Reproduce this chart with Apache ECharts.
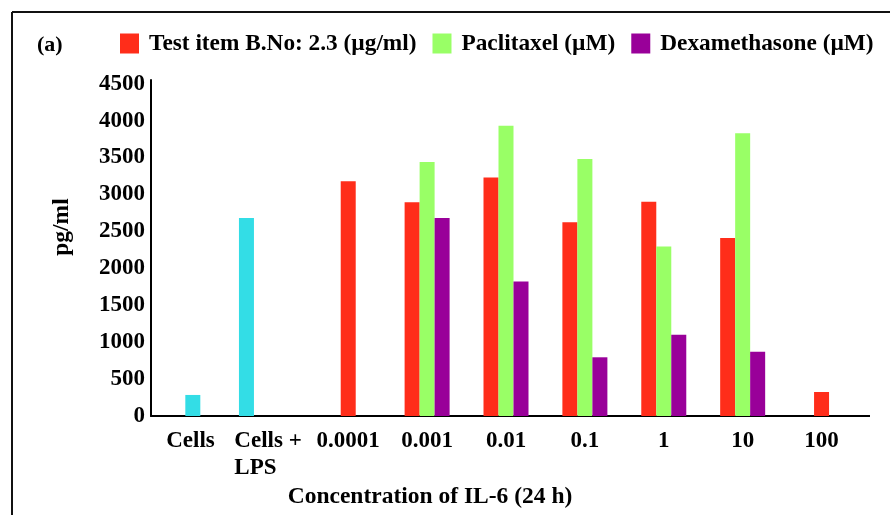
<!DOCTYPE html>
<html><head><meta charset="utf-8">
<script src="https://cdn.jsdelivr.net/npm/echarts@6/dist/echarts.min.js"></script>
<style>html,body{margin:0;padding:0;background:#fff}#c{width:890px;height:515px}</style>
</head><body><div id="c"></div>
<script>
// ---- data ----
const categories = ['Cells', 'Cells +\nLPS', '0.0001', '0.001', '0.01', '0.1', '1', '10', '100'];
const controlValues = [285, 2680, null, null, null, null, null, null, null];
const testItemValues = [null, null, 3180, 2895, 3230, 2625, 2900, 2410, 325];
const paclitaxelValues = [null, null, null, 3440, 3930, 3480, 2295, 3830, null];
const dexamethasoneValues = [null, null, null, 2680, 1820, 795, 1100, 870, null];
const seriesNames = ['Test item B.No: 2.3 (\u00b5g/ml)', 'Paclitaxel (\u00b5M)', 'Dexamethasone (\u00b5M)'];
const yTickValues = [0, 500, 1000, 1500, 2000, 2500, 3000, 3500, 4000, 4500];

// ---- layout / style ----
const RED = '#ff2d1a', GREEN = '#99ff66', PURPLE = '#990099', CYAN = '#33dde6';
const FONT = "'Liberation Serif','Times New Roman',serif";
const BAR_W = 15;
const cyanShift = [0.03, -0.29, 0, 0, 0, 0, 0, 0, 0]; // fraction of band width

const redData = testItemValues.map((v, i) => paclitaxelValues[i] == null ? null : v);
const greenData = paclitaxelValues.map((v, i) => {
  if (v != null) return v;
  if (testItemValues[i] != null) return { value: testItemValues[i], itemStyle: { color: RED } };
  return null;
});
const controlData = controlValues.map((v, i) => v == null ? null : [i, v]).filter(d => d);

const chart = echarts.init(document.getElementById('c'), null, { renderer: 'canvas' });
chart.setOption({
  animation: false,
  backgroundColor: '#fff',
  grid: { left: 151, top: 80, width: 710, height: 336 },
  legend: {
    left: 120, top: 32, padding: 0, itemWidth: 19, itemHeight: 20, itemGap: 16, icon: 'rect',
    data: seriesNames,
    textStyle: { fontFamily: FONT, fontWeight: 'bold', fontSize: 23.3, color: '#000', padding: [0, 0, 0, 5] }
  },
  xAxis: {
    type: 'category', data: categories,
    axisLine: { lineStyle: { color: '#000', width: 2 }, symbol: ['none', 'rect'], symbolSize: [2, 18] },
    axisTick: { alignWithLabel: true, length: 8, lineStyle: { color: '#000', width: 2 } },
    axisLabel: {
      interval: 0, margin: 12, color: '#000', fontFamily: FONT, fontWeight: 'bold', fontSize: 23, lineHeight: 27,
      formatter: v => v.indexOf('\n') >= 0 ? v.split('\n').map(s => '{l|' + s + '}').join('\n') : v,
      rich: { l: { width: 70, align: 'left', fontFamily: FONT, fontWeight: 'bold', fontSize: 23, lineHeight: 27, color: '#000' } }
    }
  },
  yAxis: {
    type: 'value', min: yTickValues[0], max: 4550, interval: yTickValues[1] - yTickValues[0],
    splitLine: { show: false },
    axisTick: { show: false },
    axisLine: { show: true, lineStyle: { color: '#000', width: 2 } },
    axisLabel: {
      margin: 6, color: '#000', fontFamily: FONT, fontWeight: 'bold', fontSize: 23,
      formatter: v => yTickValues.indexOf(v) >= 0 ? String(v) : ''
    }
  },
  series: [
    { type: 'bar', name: seriesNames[0], data: redData, barWidth: BAR_W, barGap: '0%', itemStyle: { color: RED } },
    { type: 'bar', name: seriesNames[1], data: greenData, barWidth: BAR_W, barGap: '0%', itemStyle: { color: GREEN } },
    { type: 'bar', name: seriesNames[2], data: dexamethasoneValues, barWidth: BAR_W, barGap: '0%', itemStyle: { color: PURPLE } },
    {
      type: 'custom', name: 'Control', data: controlData,
      renderItem: (params, api) => {
        const i = api.value(0), v = api.value(1);
        const top = api.coord([i, v]);
        const base = api.coord([i, 0]);
        const band = api.size([1, 0])[0];
        const cx = top[0] + cyanShift[i] * band;
        return { type: 'rect', shape: { x: cx - BAR_W / 2, y: top[1], width: BAR_W, height: base[1] - top[1] }, style: { fill: CYAN } };
      }
    }
  ],
  graphic: [
    { type: 'line', shape: { x1: 12, y1: 12, x2: 890, y2: 12 }, style: { stroke: '#111', lineWidth: 2 } },
    { type: 'line', shape: { x1: 12, y1: 12, x2: 12, y2: 515 }, style: { stroke: '#111', lineWidth: 2 } },
    { type: 'text', x: 37, y: 45, style: { text: '(a)', fill: '#000', font: "bold 22px " + FONT, align: 'left', verticalAlign: 'middle' } },
    { type: 'text', x: 62, y: 227, rotation: Math.PI / 2, style: { text: 'pg/ml', fill: '#000', font: "bold 23.5px " + FONT, align: 'center', verticalAlign: 'middle' } },
    { type: 'text', x: 430, y: 497, style: { text: 'Concentration of IL-6 (24 h)', fill: '#000', font: "bold 23.5px " + FONT, align: 'center', verticalAlign: 'middle' } }
  ]
});
</script>
</body></html>
